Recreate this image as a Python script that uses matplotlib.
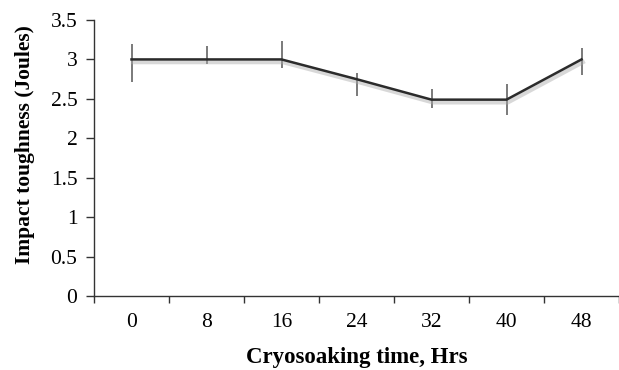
import matplotlib
matplotlib.use("Agg")
import matplotlib.pyplot as plt
import matplotlib.patheffects as pe
import numpy as np

categories = ["0", "8", "16", "24", "32", "40", "48"]
toughness = [3.0, 3.0, 3.0, 2.75, 2.49, 2.49, 3.0]
err_upper = [0.20, 0.17, 0.24, 0.08, 0.14, 0.20, 0.15]
err_lower = [0.29, 0.06, 0.11, 0.21, 0.11, 0.19, 0.20]
yticks = [0, 0.5, 1, 1.5, 2, 2.5, 3, 3.5]
ytick_labels = ["0", "0.5", "1", "1.5", "2", "2.5", "3", "3.5"]

plt.rcParams['font.family'] = ['Liberation Serif', 'DejaVu Serif']

fig = plt.figure(figsize=(6.19, 3.70), dpi=100)
ax = fig.add_axes([94/619, 1-296/370, 1-94/619, (296-20)/370])

x = np.arange(len(categories))
ax.errorbar(x, toughness, yerr=[err_lower, err_upper], fmt='none',
            ecolor='#707070', elinewidth=1.3, capsize=0, zorder=2)
ax.plot(x, toughness, color='#2b2b2b', lw=1.8, zorder=3,
        path_effects=[pe.SimpleLineShadow(offset=(1, -2), shadow_color='#aaaaaa', alpha=0.45, linewidth=3),
                      pe.Normal()])

ax.set_xlim(-0.5, 6.45)
ax.set_ylim(0, 3.5)
ax.set_yticks(yticks)
ax.set_yticklabels(ytick_labels)
ax.set_xticks(x)
ax.set_xticklabels(categories)
ax.set_xticks(np.arange(-0.5, 7, 1), minor=True)
ax.tick_params(axis='x', which='major', length=0, pad=12, labelsize=15.5)
ax.tick_params(axis='x', which='minor', length=5, width=1, direction='out', color='#333333')
ax.tick_params(axis='y', length=6, width=1, direction='out', labelsize=15.5, pad=6, color='#333333')

for s in ['top', 'right']:
    ax.spines[s].set_visible(False)
for s in ['left', 'bottom']:
    ax.spines[s].set_color('#333333')
    ax.spines[s].set_linewidth(1.0)

ax.set_xlabel("Cryosoaking time, Hrs", fontsize=16.5, fontweight='bold')
ax.xaxis.set_label_coords((357-94)/525, -(358-296)/276)
ax.set_ylabel("Impact toughness (Joules)", fontsize=15.5, fontweight='bold')
ax.yaxis.set_label_coords(-(94-25)/525, (296-145)/276)
ax.yaxis.label.set_va('center')
ax.xaxis.label.set_va('center')

fig.savefig("out.png", dpi=100)
